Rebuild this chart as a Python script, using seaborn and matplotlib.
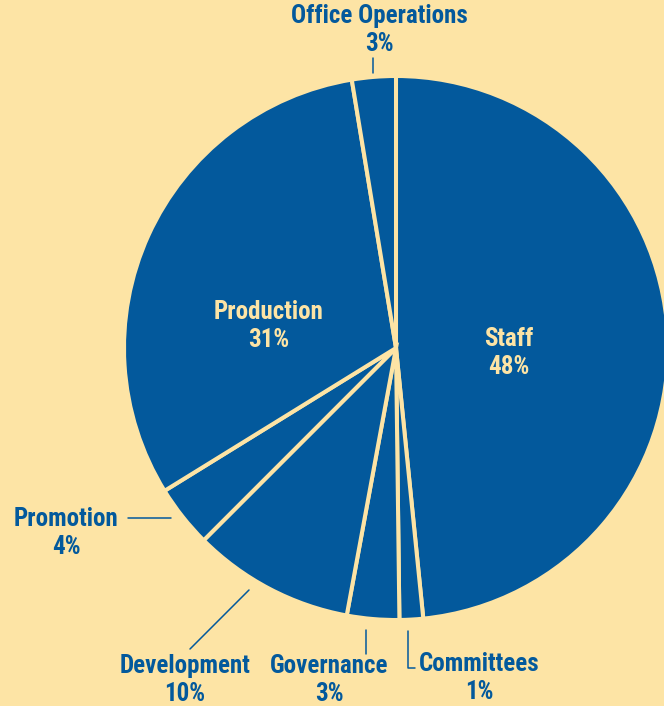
import matplotlib
matplotlib.use("Agg")
import matplotlib.pyplot as plt
import seaborn as sns

categories = ["Staff", "Committees", "Governance", "Development", "Promotion", "Production", "Office Operations"]
shares = [48.4, 1.4, 3.1, 9.6, 3.7, 31.2, 2.6]

BG = "#FDE4A5"
BLUE = "#03599C"

sns.set_theme(style="white")
plt.rcParams["font.family"] = ["Roboto Condensed", "DejaVu Sans"]

W, H = 664, 706
fig = plt.figure(figsize=(W / 100, H / 100), dpi=100, facecolor=BG)
ax = fig.add_axes([0, 0, 1, 1])
ax.set_facecolor(BG)

cx, cy, r = 396, H - 348, 272
ax.pie(shares, startangle=90, counterclock=False, center=(cx, cy), radius=r,
       colors=[BLUE] * len(shares), frame=True,
       wedgeprops=dict(edgecolor=BG, linewidth=2.9))
ax.set_xlim(0, W)
ax.set_ylim(0, H)
ax.set_aspect("equal")
ax.axis("off")

labels = [f"{c}\n{round(v)}%" for c, v in zip(categories, shares)]
# label positions (image pixel coords), inside flag
pos = {
    "Staff": (509, 353, True),
    "Committees": (479, 678, False),
    "Governance": (329, 680, False),
    "Development": (185, 680, False),
    "Promotion": (66, 533, False),
    "Production": (269, 326, True),
    "Office Operations": (379, 30, False),
}
for c, lab in zip(categories, labels):
    x, y, inside = pos[c]
    ax.text(x, H - y, lab, ha="center", va="center", fontsize=18,
            fontweight="bold", color=BG if inside else BLUE, linespacing=1.22)

# leader lines (image coords)
leaders = [
    [(373, 58), (373, 73)],
    [(128, 518), (171, 518)],
    [(190, 649), (249, 590)],
    [(366, 630), (366, 654)],
    [(408, 631), (408, 668), (415, 668)],
]
for pts in leaders:
    xs = [p[0] for p in pts]
    ys = [H - p[1] for p in pts]
    ax.plot(xs, ys, color=BLUE, linewidth=1.1)

fig.savefig("out.png", dpi=100, facecolor=BG)
